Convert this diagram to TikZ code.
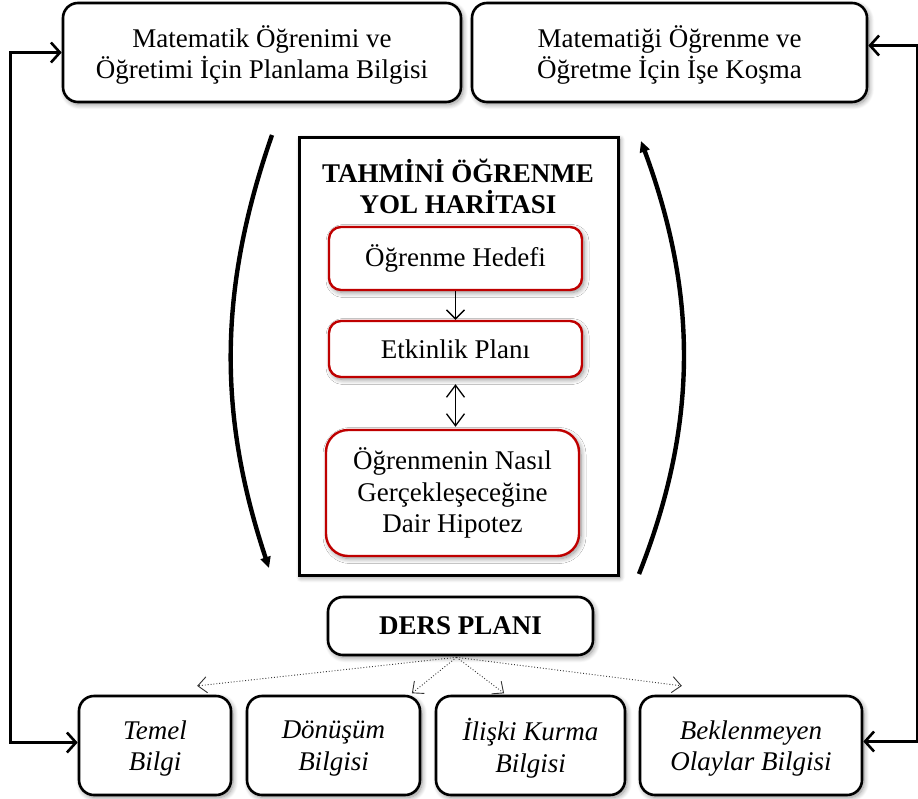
\documentclass[tikz,border=0pt]{standalone}
\usepackage{fontspec}
\setmainfont{Liberation Serif}
\usetikzlibrary{arrows.meta,calc,shadows.blur}

\tikzset{
  soft/.style={blur shadow={shadow xshift=2pt, shadow yshift=-2.5pt,
      shadow blur radius=5pt, shadow blur steps=8, shadow opacity=45}},
  txt/.style={font=\fontsize{27}{31.5}\selectfont, align=center},
  box/.style={txt, draw=black, line width=2.6pt, rounded corners=15pt,
      fill=white, inner sep=0pt, soft},
  redbox/.style={txt, draw=red!75!black, line width=2.4pt,
      rounded corners=12pt, fill=white, inner sep=0pt, soft},
  frame/.style={draw=black, line width=3pt, fill=white, inner sep=0pt, soft},
  conn/.style={line width=2.6pt,
      {Straight Barb[length=9pt,width=20pt]}-{Straight Barb[length=9pt,width=20pt]}},
  step arrow/.style={line width=1.3pt, -{Straight Barb[length=9pt,width=18pt]}},
  both arrow/.style={line width=1.3pt,
      {Straight Barb[length=12pt,width=18pt]}-{Straight Barb[length=12pt,width=18pt]}},
  dots arrow/.style={line width=0.9pt, dotted, black!80,
      -{Straight Barb[length=9pt,width=16pt,line width=0.9pt,sep]}},
  bracket/.style={line width=4.4pt,
      -{Triangle[length=11pt,width=10pt]}},
}

\begin{document}
\begin{tikzpicture}[x=1pt,y=-1pt]
\useasboundingbox (0,0) rectangle (918,798);

% top row
\node[box, text depth=1pt, minimum width=398pt, minimum height=99pt] (plan) at (262,52.5)
  {Matematik Öğrenimi ve\\Öğretimi İçin Planlama Bilgisi};
\node[box, text depth=1pt, minimum width=395pt, minimum height=99pt] (kosma) at (669.5,52.5)
  {Matematiği Öğrenme ve\\Öğretme İçin İşe Koşma};

% learning trajectory frame
\node[frame, minimum width=319pt, minimum height=438pt] (harita) at (458.5,356) {};
\node[txt, font=\fontsize{27}{31}\selectfont\bfseries] (baslik) at (458,186)
  {TAHMİNİ ÖĞRENME\\YOL HARİTASI};
\node[redbox, minimum width=253pt, minimum height=63pt] (hedef) at (455.5,258.5)
  {Öğrenme Hedefi};
\node[redbox, minimum width=253pt, minimum height=56pt] (etkinlik) at (455.5,349)
  {Etkinlik Planı};
\node[redbox, rounded corners=22pt, minimum width=253pt, minimum height=126pt]
  (hipotez) at (452.5,493)
  {Öğrenmenin Nasıl\\Gerçekleşeceğine\\Dair Hipotez};

\draw[step arrow] (hedef) -- (etkinlik);
\draw[both arrow, shorten <=6pt, shorten >=2pt]
  (etkinlik.south) -- (etkinlik.south |- hipotez.north);

% curved arrows around the frame: down on the left, up on the right
\coordinate (lt) at (272,135);
\coordinate (lb) at (269,568);
\coordinate (rt) at (641,141);
\coordinate (rb) at (639,574);
\draw[bracket] (lt) .. controls (218,290) and (218,415) .. (lb);
\draw[bracket] (rb) .. controls (698,425) and (698,295) .. (rt);

% lesson plan
\node[box, font=\fontsize{27}{31.5}\selectfont\bfseries,
  minimum width=265pt, minimum height=58pt] (ders) at (460.5,626) {DERS PLANI};

% knowledge types
\tikzset{kbox/.style={box, font=\fontsize{27}{31.5}\selectfont\itshape,
  text depth=0pt, minimum height=99pt}}
\node[kbox, minimum width=152pt] (temel) at (155,745.5) {Temel\\Bilgi};
\node[kbox, minimum width=173pt] (donusum) at (333.5,745.5) {Dönüşüm\\Bilgisi};
\node[kbox, minimum width=189pt] (iliski) at (530.5,745.5) {İlişki Kurma\\Bilgisi};
\node[kbox, minimum width=222pt] (bekl) at (751,745.5) {Beklenmeyen\\Olaylar Bilgisi};

% dotted fan from the lesson plan
\coordinate (d0) at ($(ders.south)+(-4,1)$);
\coordinate (d1) at (196,686);
\coordinate (d2) at (411,694);
\coordinate (d3) at (505,694);
\coordinate (d4) at (683,686);
\foreach \t in {d1,d2,d3,d4} \draw[dots arrow] (d0) -- (\t);

% feedback loops on both sides
\draw[conn] (plan.west) -- ++(-51,0) |- ([yshift=3pt]temel.west);
\draw[conn] ([yshift=7pt]kosma.east) -- ++(49,0) |- ([yshift=4pt]bekl.east);
\end{tikzpicture}
\end{document}
